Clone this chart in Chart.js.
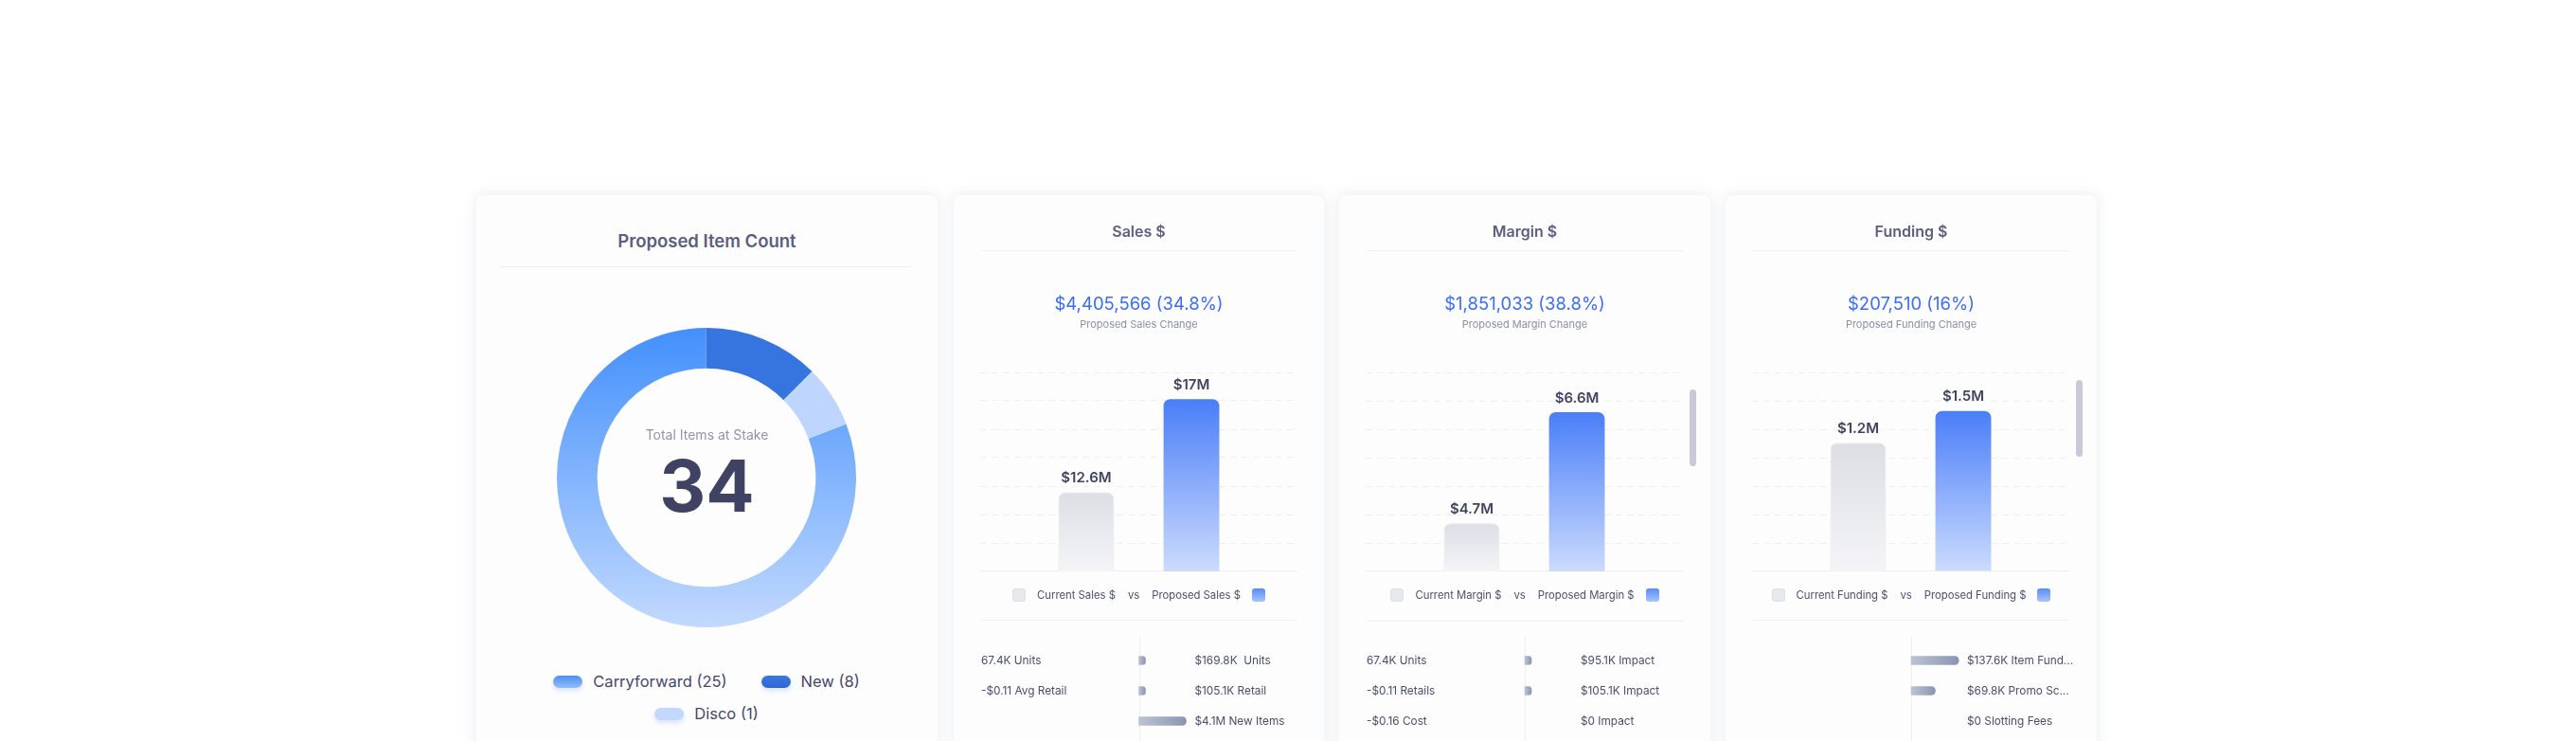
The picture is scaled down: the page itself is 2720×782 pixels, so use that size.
<!DOCTYPE html>
<html>
<head>
<meta charset="utf-8">
<script src="https://cdn.jsdelivr.net/npm/chart.js@4.4.1/dist/chart.umd.min.js"></script>
<style>
  html, body { margin: 0; padding: 0; background: #fff; }
  body { width: 2720px; height: 782px; position: relative; overflow: hidden; font-family: Inter, "Noto Sans", sans-serif; }
  .card { position: absolute; top: 206px; height: 640px; background: #fdfdfe; border-radius: 8px; box-shadow: 0 0 14px 3px rgba(45, 55, 95, 0.07); }
  .title { position: absolute; left: 0; right: 0; text-align: center; color: #5b5e80; font-weight: 600; }
  .rule { position: absolute; left: 29px; right: 29px; height: 1px; background: #eef0f4; }
  .big { position: absolute; left: 0; right: 0; top: 102px; text-align: center; color: #3b6ef6; font-size: 18.5px; line-height: 24px; }
  .sub { position: absolute; left: 0; right: 0; top: 129px; text-align: center; color: #8b8ea6; font-size: 11px; line-height: 14px; }
  .plot { position: absolute; left: 28px; top: 187px; width: 335px; height: 210px; }
  .drivers { position: absolute; left: 29px; right: 10px; top: 466px; height: 128px; }
  .vs { position: absolute; left: 0; right: 0; top: 412px; height: 20px; display: flex; justify-content: center; align-items: center; color: #4d5170; font-size: 11.3px; }
  .vs .sw { width: 14px; height: 14px; border-radius: 3px; box-sizing: border-box; }
  .vs span { margin: 0 12px; }
  .vs span.mid { margin: 0 1px; }
  .thumb { position: absolute; width: 7px; border-radius: 4px; background: #c8cad7; }
  #legend1 { position: absolute; left: 78px; width: 330px; top: 503px; display: flex; flex-wrap: wrap; justify-content: center; column-gap: 36px; row-gap: 14px; }
  #legend1 .item { display: flex; align-items: center; height: 20px; color: #45486a; font-size: 16.5px; }
  #legend1 .pill { width: 31px; height: 13px; border-radius: 7px; margin-right: 11px; box-shadow: 0 3px 5px rgba(60, 110, 220, 0.18); }
  #center1 { position: absolute; left: 0; right: 0; text-align: center; }
</style>
</head>
<body>

<div class="card" style="left:503px; width:487px;">
  <div class="title" style="top:36px; font-size:18.5px; line-height:24px;">Proposed Item Count</div>
  <div class="rule" style="top:75px; left:25px; right:28px;"></div>
  <div style="position:absolute; left:85px; top:140px; width:316px; height:316px;"><canvas id="itemDonut"></canvas></div>
  <div id="center1" style="top:244px; color:#9194ad; font-size:14px; line-height:18px;">Total Items at Stake</div>
  <div id="center2" style="position:absolute; left:0; right:0; top:262px; text-align:center; color:#3f4262; font-size:76px; font-weight:700; line-height:88px;"></div>
  <div id="legend1"></div>
</div>

<div class="card" style="left:1007px; width:391px;">
  <div class="title" style="top:28px; font-size:16px; line-height:20px;">Sales $</div>
  <div class="rule" style="top:58px;"></div>
  <div class="big">$4,405,566 (34.8%)</div>
  <div class="sub">Proposed Sales Change</div>
  <div class="plot"><canvas id="salesBars"></canvas></div>
  <div class="vs" id="salesVs"></div>
  <div class="rule" style="top:448px;"></div>
  <div class="drivers"><canvas id="salesDrivers"></canvas></div>
</div>

<div class="card" style="left:1414px; width:392px;">
  <div class="title" style="top:28px; font-size:16px; line-height:20px;">Margin $</div>
  <div class="rule" style="top:58px;"></div>
  <div class="big">$1,851,033 (38.8%)</div>
  <div class="sub">Proposed Margin Change</div>
  <div class="plot"><canvas id="marginBars"></canvas></div>
  <div class="vs" id="marginVs"></div>
  <div class="rule" style="top:449px;"></div>
  <div class="drivers"><canvas id="marginDrivers"></canvas></div>
</div>

<div class="card" style="left:1822px; width:392px;">
  <div class="title" style="top:28px; font-size:16px; line-height:20px;">Funding $</div>
  <div class="rule" style="top:58px;"></div>
  <div class="big">$207,510 (16%)</div>
  <div class="sub">Proposed Funding Change</div>
  <div class="plot"><canvas id="fundingBars"></canvas></div>
  <div class="vs" id="fundingVs"></div>
  <div class="rule" style="top:448px;"></div>
  <div class="drivers"><canvas id="fundingDrivers"></canvas></div>
</div>

<div class="thumb" style="left:1784px; top:411px; height:81px;"></div>
<div class="thumb" style="left:2192px; top:401px; height:81px;"></div>

<script>
// Proposed Item Count
const itemLabels = ['Carryforward', 'New', 'Disco'];
const itemCounts = [25, 8, 1];
const itemRingShare = [80.8, 12.5, 6.7]; // share of the ring as drawn, %
const totalItems = 34;

// Current vs proposed, $M
const compareNames = ['Current', 'Proposed'];
const salesValues = [12.6, 17];
const marginValues = [4.7, 6.6];
const fundingValues = [1.2, 1.5];
const salesRange = [8.87, 18.26];
const marginRange = [3.88, 7.28];
const fundingRange = [0, 1.86];

// Drivers, $K
const salesLeft = ['67.4K Units', '-$0.11 Avg Retail', ''];
const salesRight = ['$169.8K  Units', '$105.1K Retail', '$4.1M New Items'];
const salesImpact = [169.8, 105.1, 4100];
const salesImpactMax = 13650;

const marginLeft = ['67.4K Units', '-$0.11 Retails', '-$0.16 Cost'];
const marginRight = ['$95.1K Impact', '$105.1K Impact', '$0 Impact'];
const marginImpact = [95.1, 105.1, 0];
const marginImpactMax = 13650;

const fundingLeft = ['', '', ''];
const fundingRight = ['$137.6K Item Fund...', '$69.8K Promo Sc...', '$0 Slotting Fees'];
const fundingImpact = [137.6, 69.8, 0];
const fundingImpactMax = 458;

const FONT = 'Inter, "Noto Sans", sans-serif';

// donut
document.getElementById('center2').textContent = totalItems;

const pillFills = [
  'linear-gradient(#4a90f8, #93bdfb)',
  'linear-gradient(#3b79e3, #2f66cf)',
  '#c2d9fd'
];
document.getElementById('legend1').innerHTML = itemLabels.map((l, i) =>
  '<div class="item"><div class="pill" style="background:' + pillFills[i] + '"></div>' + l + ' (' + itemCounts[i] + ')</div>'
).join('');

const sliceColors = [null, '#3674e0', '#bed6fd'];
new Chart(document.getElementById('itemDonut'), {
  type: 'doughnut',
  data: {
    labels: itemLabels,
    datasets: [{
      data: itemRingShare,
      borderWidth: 0,
      backgroundColor: function(ctx) {
        if (ctx.dataIndex !== 0) return sliceColors[ctx.dataIndex];
        const area = ctx.chart.chartArea;
        if (!area) return '#6aa6fa';
        const g = ctx.chart.ctx.createLinearGradient(0, area.top, 0, area.bottom);
        g.addColorStop(0, '#4390fc');
        g.addColorStop(1, '#c2d9fe');
        return g;
      }
    }]
  },
  options: {
    responsive: true,
    maintainAspectRatio: false,
    animation: false,
    cutout: '73%',
    rotation: 69,
    plugins: { legend: { display: false }, tooltip: { enabled: false } }
  }
});

// bar value labels + solid base line
const fmtM = v => '$' + (Number.isInteger(v) ? v : v.toFixed(1)) + 'M';
const barLabels = {
  id: 'barLabels',
  beforeDatasetsDraw(chart) {
    const { ctx, chartArea } = chart;
    ctx.save();
    ctx.strokeStyle = '#eceef3';
    ctx.lineWidth = 1;
    ctx.beginPath();
    ctx.moveTo(chartArea.left, chartArea.bottom - 0.5);
    ctx.lineTo(chartArea.right, chartArea.bottom - 0.5);
    ctx.stroke();
    ctx.restore();
  },
  afterDatasetsDraw(chart) {
    const { ctx } = chart;
    ctx.save();
    ctx.font = '600 15px ' + FONT;
    ctx.fillStyle = '#41445f';
    ctx.textAlign = 'center';
    ctx.textBaseline = 'middle';
    chart.data.datasets.forEach((ds, i) => {
      chart.getDatasetMeta(i).data.forEach((bar, j) => {
        ctx.fillText(fmtM(ds.data[j]), bar.x, bar.y - 15);
      });
    });
    ctx.restore();
  }
};

function barFill(ctx, i) {
  const chart = ctx.chart;
  if (!chart.chartArea) return i ? '#7ea3f9' : '#e8e9ee';
  const y = chart.scales.y;
  const top = y.getPixelForValue(ctx.raw);
  const g = chart.ctx.createLinearGradient(0, top, 0, chart.chartArea.bottom);
  if (i) { g.addColorStop(0, '#4a7ef8'); g.addColorStop(1, '#ccdbfd'); }
  else { g.addColorStop(0, '#dcdee4'); g.addColorStop(1, '#f5f5f8'); }
  return g;
}

function compareChart(id, values, range) {
  return new Chart(document.getElementById(id), {
    type: 'bar',
    data: {
      labels: [''],
      datasets: compareNames.map((name, i) => ({
        label: name,
        data: [values[i]],
        backgroundColor: ctx => barFill(ctx, i),
        borderColor: i ? 'rgba(0,0,0,0)' : '#e2e4ea',
        borderWidth: i ? 0 : 1,
        borderRadius: 7,
        borderSkipped: 'bottom',
        categoryPercentage: 0.663,
        barPercentage: 0.53
      }))
    },
    options: {
      responsive: true,
      maintainAspectRatio: false,
      animation: false,
      layout: { padding: 0 },
      plugins: { legend: { display: false }, tooltip: { enabled: false } },
      scales: {
        x: { display: false },
        y: {
          min: range[0],
          max: range[1],
          ticks: { display: false, count: 8 },
          grid: { color: '#edeff4', drawTicks: false },
          border: { display: false, dash: [7, 5] },
          afterFit: s => { s.width = 0; }
        }
      }
    },
    plugins: [barLabels]
  });
}

compareChart('salesBars', salesValues, salesRange);
compareChart('marginBars', marginValues, marginRange);
compareChart('fundingBars', fundingValues, fundingRange);

function vsLegend(id, word) {
  document.getElementById(id).innerHTML =
    '<div class="sw" style="background:#e8e9ef; border:1px solid #dde0e7"></div>' +
    '<span>Current ' + word + ' $</span><span class="mid">vs</span><span>Proposed ' + word + ' $</span>' +
    '<div class="sw" style="background:linear-gradient(#5a8bf8, #a9c4fc)"></div>';
}
vsLegend('salesVs', 'Sales');
vsLegend('marginVs', 'Margin');
vsLegend('fundingVs', 'Funding');

// drivers
const driverText = {
  id: 'driverText',
  beforeDatasetsDraw(chart) {
    const { ctx } = chart;
    const x0 = Math.round(chart.scales.x.getPixelForValue(0)) + 0.5;
    ctx.save();
    ctx.strokeStyle = '#eef0f3';
    ctx.lineWidth = 1;
    ctx.beginPath();
    ctx.moveTo(x0, 0);
    ctx.lineTo(x0, chart.height);
    ctx.stroke();
    ctx.restore();
  },
  afterDatasetsDraw(chart, args, opts) {
    const { ctx, chartArea } = chart;
    const x0 = chart.scales.x.getPixelForValue(0);
    const y = chart.scales.y;
    ctx.save();
    ctx.font = '11.8px ' + FONT;
    ctx.fillStyle = '#4a4e6b';
    ctx.textBaseline = 'middle';
    ctx.textAlign = 'left';
    opts.left.forEach((t, i) => ctx.fillText(t, chartArea.left, y.getPixelForValue(i)));
    opts.right.forEach((t, i) => ctx.fillText(t, x0 + 59, y.getPixelForValue(i)));
    ctx.restore();
  }
};

function driverFill(ctx) {
  const chart = ctx.chart;
  if (!chart.chartArea || ctx.raw == null) return '#a3abc4';
  const x = chart.scales.x;
  const a = x.getPixelForValue(0);
  const b = Math.max(x.getPixelForValue(ctx.raw), a + 7);
  const g = chart.ctx.createLinearGradient(a, 0, b, 0);
  g.addColorStop(0, '#bcc3d4');
  g.addColorStop(1, '#8b95b3');
  return g;
}

function driverChart(id, left, right, values, maxK) {
  return new Chart(document.getElementById(id), {
    type: 'bar',
    data: {
      labels: right,
      datasets: [{
        data: values.map(v => v === 0 ? null : v),
        backgroundColor: driverFill,
        borderRadius: 5,
        borderSkipped: 'start',
        barThickness: 9,
        minBarLength: 7
      }]
    },
    options: {
      indexAxis: 'y',
      responsive: true,
      maintainAspectRatio: false,
      animation: false,
      layout: { padding: { top: 9, bottom: 23, right: 19 } },
      plugins: {
        legend: { display: false },
        tooltip: { enabled: false },
        driverText: { left: left, right: right }
      },
      scales: {
        x: { display: false, min: -maxK, max: maxK },
        y: { display: false }
      }
    },
    plugins: [driverText]
  });
}

driverChart('salesDrivers', salesLeft, salesRight, salesImpact, salesImpactMax);
driverChart('marginDrivers', marginLeft, marginRight, marginImpact, marginImpactMax);
driverChart('fundingDrivers', fundingLeft, fundingRight, fundingImpact, fundingImpactMax);
</script>
</body>
</html>
